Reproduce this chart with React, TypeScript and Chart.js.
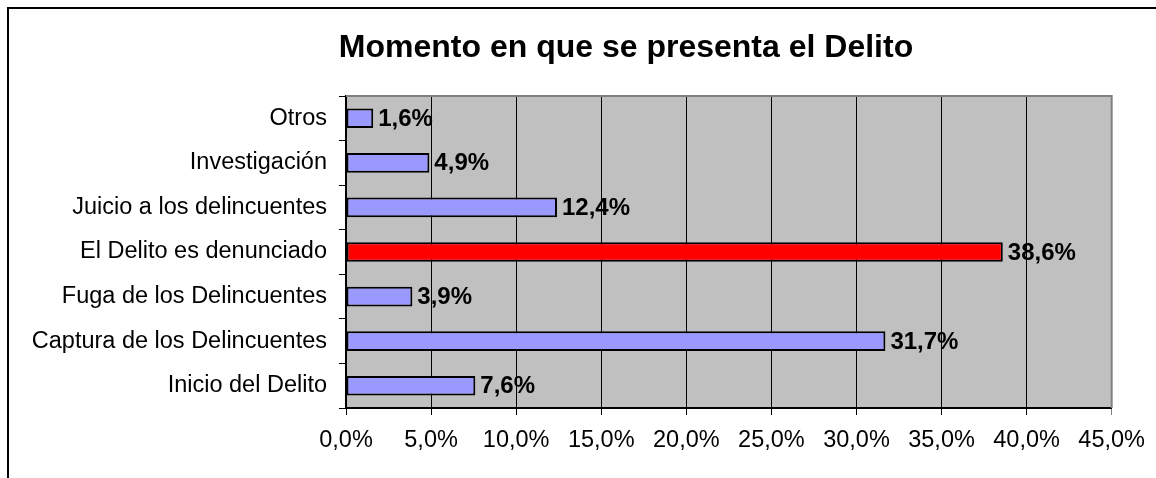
import React, { useEffect, useRef } from "react";
import { Chart, registerables } from "chart.js";

Chart.register(...registerables);

const TITLE = "Momento en que se presenta el Delito";
const categories = [
  "Otros",
  "Investigación",
  "Juicio a los delincuentes",
  "El Delito es denunciado",
  "Fuga de los Delincuentes",
  "Captura de los Delincuentes",
  "Inicio del Delito",
];
const values = [1.6, 4.9, 12.4, 38.6, 3.9, 31.7, 7.6];
const barColors = ["#9999FF", "#9999FF", "#9999FF", "#FF0000", "#9999FF", "#9999FF", "#9999FF"];
const xMin = 0;
const xMax = 45;
const xStep = 5;

const FONT = "'Liberation Sans', Arial, sans-serif";
const fmt = (v: number) => v.toFixed(1).replace(".", ",") + "%";

const decorPlugin = {
  id: "decor",
  beforeDraw(chart: any) {
    const { ctx, chartArea: a } = chart;
    ctx.save();
    ctx.strokeStyle = "#000";
    ctx.lineWidth = 2;
    ctx.beginPath();
    ctx.moveTo(8, chart.height + 5);
    ctx.lineTo(8, 8);
    ctx.lineTo(chart.width + 5, 8);
    ctx.stroke();
    ctx.fillStyle = "#C0C0C0";
    ctx.fillRect(a.left, a.top, a.right - a.left, a.bottom - a.top);
    ctx.fillStyle = "#000";
    ctx.font = "bold 32px " + FONT;
    ctx.textAlign = "center";
    ctx.textBaseline = "alphabetic";
    ctx.fillText(TITLE, 626, 57);
    ctx.restore();
  },
  beforeDatasetsDraw(chart: any) {
    const { ctx, chartArea: a } = chart;
    ctx.save();
    ctx.strokeStyle = "#808080";
    ctx.lineWidth = 2;
    ctx.beginPath();
    ctx.moveTo(a.left, a.top);
    ctx.lineTo(a.right, a.top);
    ctx.lineTo(a.right, a.bottom);
    ctx.stroke();
    ctx.restore();
  },
  afterDatasetsDraw(chart: any) {
    const { ctx } = chart;
    const meta = chart.getDatasetMeta(0);
    ctx.save();
    ctx.fillStyle = "#000";
    ctx.font = "bold 24px " + FONT;
    ctx.textAlign = "left";
    ctx.textBaseline = "middle";
    meta.data.forEach((el: any, i: number) => {
      ctx.fillText(fmt(values[i]), el.x + 5, el.y + 1);
    });
    ctx.restore();
  },
};

export default function App() {
  const ref = useRef<HTMLCanvasElement | null>(null);
  useEffect(() => {
    if (!ref.current) return;
    const chart = new Chart(ref.current, {
      type: "bar",
      data: {
        labels: categories,
        datasets: [
          {
            data: values,
            backgroundColor: barColors,
            borderColor: "#000",
            borderWidth: 2,
            borderSkipped: false,
            barPercentage: 0.44,
            categoryPercentage: 1,
          },
        ],
      },
      options: {
        indexAxis: "y",
        animation: false,
        responsive: false,
        maintainAspectRatio: false,
        layout: { padding: { top: 96, right: 44, left: 0, bottom: 0 } },
        plugins: {
          legend: { display: false },
          title: { display: false },
          tooltip: { enabled: false },
        },
        scales: {
          x: {
            min: xMin,
            max: xMax,
            afterFit: (s: any) => {
              s.height = 70;
            },
            ticks: {
              stepSize: xStep,
              callback: (v: any) => fmt(Number(v)),
              font: { family: FONT, size: 23.5 },
              color: "#000",
              padding: 11,
              maxRotation: 0,
            },
            grid: {
              color: (c: any) => (c.tick && c.tick.value === xMax ? "#808080" : "#000"),
              lineWidth: 1,
              tickLength: 7,
              drawTicks: true,
            },
            border: { display: true, color: "#000", width: 2 },
          },
          y: {
            afterFit: (s: any) => {
              s.width = 346;
            },
            ticks: {
              font: { family: FONT, size: 23.5 },
              color: "#000",
              padding: 12,
            },
            grid: {
              drawOnChartArea: false,
              color: "#000",
              tickLength: 7,
              offset: true,
            },
            border: { display: true, color: "#000", width: 2 },
          },
        },
      },
      plugins: [decorPlugin],
    });
    return () => chart.destroy();
  }, []);
  return (
    <div style={{ position: "fixed", left: 0, top: 0, width: 1156, height: 478, background: "#fff" }}>
      <canvas ref={ref} width={1156} height={478} style={{ display: "block", width: 1156, height: 478 }} />
    </div>
  );
}
